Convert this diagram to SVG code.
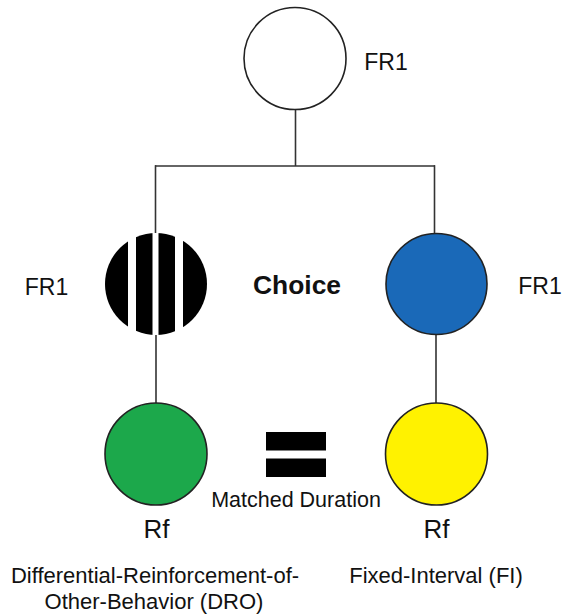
<svg xmlns="http://www.w3.org/2000/svg" width="563" height="614" viewBox="0 0 563 614">
<style>
.node{stroke:#222;stroke-width:1.6}
.lbl{font-family:"Liberation Sans",Arial,sans-serif;fill:#111}
.conn line{stroke:#333;stroke-width:1.6}
</style>
<defs>
<clipPath id="cs"><circle cx="156" cy="284" r="51"/></clipPath>
</defs>
<rect width="563" height="614" fill="#fff"/>
<g class="conn" id="connectors">
<line x1="295.5" y1="110" x2="295.5" y2="166"/>
<line x1="155" y1="166" x2="435" y2="166"/>
<line x1="155.5" y1="165.2" x2="155.5" y2="233"/>
<line x1="434.5" y1="165.2" x2="434.5" y2="234"/>
<line x1="156" y1="335" x2="156" y2="403"/>
<line x1="436" y1="334" x2="436" y2="403"/>
</g>
<g id="top">
<circle class="node" cx="295" cy="58.5" r="51" fill="#fff"/>
<text class="lbl" x="386" y="70" font-size="23" text-anchor="middle">FR1</text>
</g>
<g id="striped">
<g clip-path="url(#cs)" fill="#000">
<rect x="104" y="232" width="24" height="104"/>
<rect x="136" y="232" width="16.5" height="104"/>
<rect x="158.5" y="232" width="16.5" height="104"/>
<rect x="183" y="232" width="25" height="104"/>
</g>
<text class="lbl" x="46.5" y="295" font-size="23" text-anchor="middle">FR1</text>
</g>
<g id="choice">
<text class="lbl" x="297" y="294" font-size="26.4" font-weight="bold" text-anchor="middle">Choice</text>
</g>
<g id="blue">
<circle class="node" cx="436.5" cy="284" r="50.5" fill="#1a69b8"/>
<text class="lbl" x="540" y="294" font-size="23" text-anchor="middle">FR1</text>
</g>
<g id="green">
<circle class="node" cx="156" cy="454" r="51" fill="#1ca84b"/>
<text class="lbl" x="156.5" y="538" font-size="26" text-anchor="middle">Rf</text>
<text class="lbl" x="155" y="583" font-size="22" text-anchor="middle">Differential-Reinforcement-of-</text>
<text class="lbl" x="154" y="609" font-size="22" text-anchor="middle">Other-Behavior (DRO)</text>
</g>
<g id="yellow">
<circle class="node" cx="436.5" cy="454" r="51" fill="#fff200"/>
<text class="lbl" x="436.5" y="538" font-size="26" text-anchor="middle">Rf</text>
<text class="lbl" x="436" y="583" font-size="22" text-anchor="middle">Fixed-Interval (FI)</text>
</g>
<g id="equals">
<rect x="266" y="432" width="60" height="18.5" fill="#000"/>
<rect x="266" y="458.5" width="60" height="18.5" fill="#000"/>
<text class="lbl" x="296" y="507" font-size="21.5" text-anchor="middle">Matched Duration</text>
</g>
</svg>
